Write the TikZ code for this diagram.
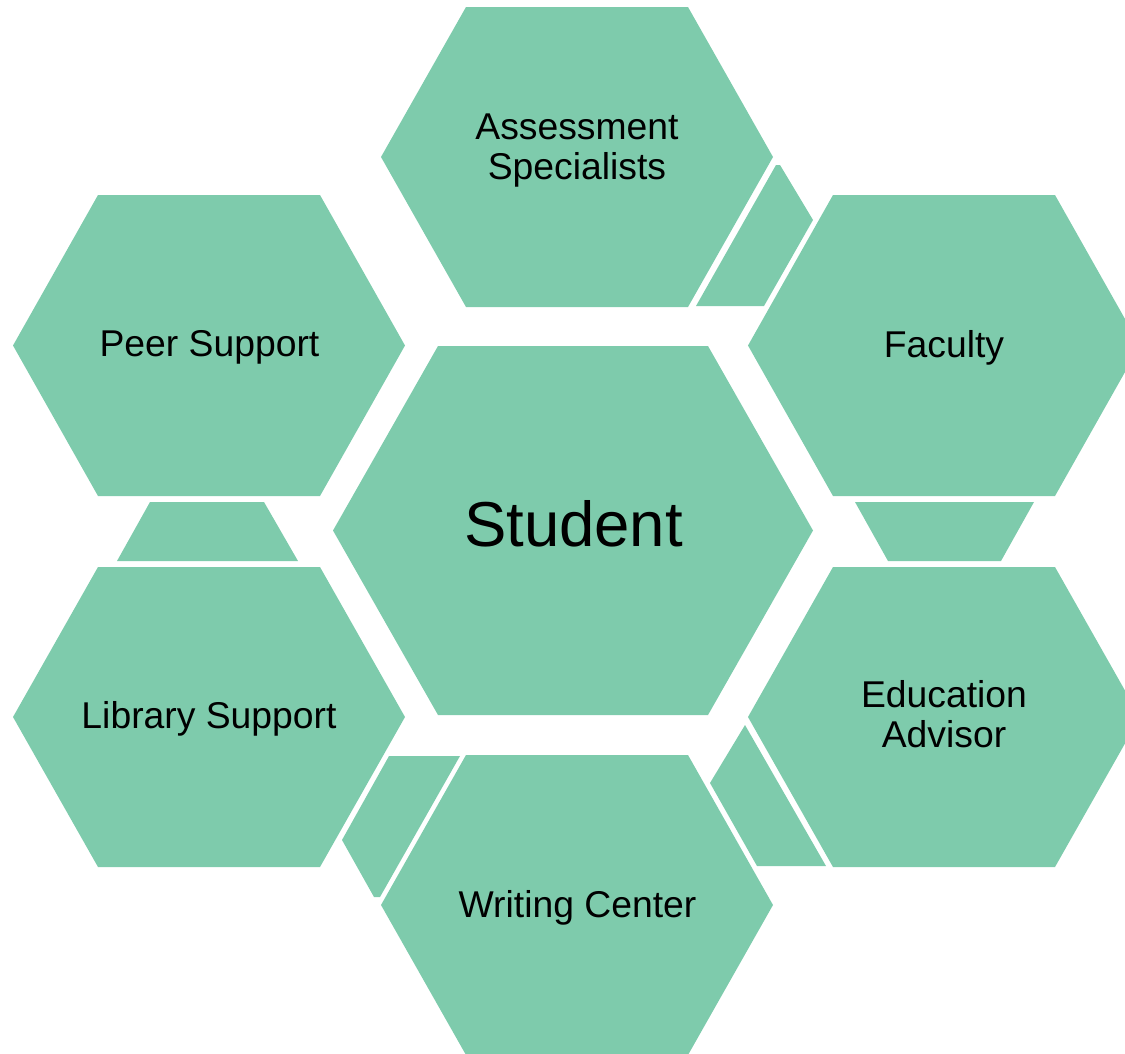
\documentclass[tikz,border=0pt]{standalone}
\usepackage{fontspec}
\setmainfont{Liberation Sans}
\definecolor{hexgreen}{RGB}{126,203,172}
\newcommand{\HexShape}[5]{% cx cy halfwidth halfedge halfheight
  \fill[hexfill] ({#1-#3},{#2}) -- ({#1-#4},{#2-#5}) -- ({#1+#4},{#2-#5})
    -- ({#1+#3},{#2}) -- ({#1+#4},{#2+#5}) -- ({#1-#4},{#2+#5}) -- cycle;}
\begin{document}
\begin{tikzpicture}[x=1pt,y=-1pt,
  hexfill/.style={fill=hexgreen},
  linkfill/.style={fill=hexgreen},
  lbl/.style={font=\fontsize{37.3}{40}\selectfont, text=black, inner sep=0pt, align=center},
  biglbl/.style={font=\fontsize{63.5}{70}\selectfont, text=black, inner sep=0pt}]
\useasboundingbox (0,0) rectangle (1125,1053);
\clip (0,0) rectangle (1125,1053);
% hexagons
\HexShape{573}{530.5}{240}{135}{184.5}
\HexShape{577}{157}{196}{111}{150}
\HexShape{209}{345.5}{196}{111}{150.5}
\HexShape{944}{345.5}{196}{111}{150.5}
\HexShape{209}{717}{196}{111}{150}
\HexShape{944}{717}{196}{111}{150}
\HexShape{577}{905}{196}{111}{150}
% linking trapezoids
\fill[linkfill] (696,306) -- (764,306) -- (813,220) -- (780,165) -- (776,165) -- cycle;
\fill[linkfill] (389,756) -- (460,756) -- (380,897) -- (374,897) -- (342,840) -- cycle;
\fill[linkfill] (745,725) -- (826,866) -- (757,866) -- (710,783) -- cycle;
\fill[linkfill] (855,502) -- (1034,502) -- (1001,561) -- (888,561) -- cycle;
\fill[linkfill] (150,502) -- (264,502) -- (298,561) -- (117,561) -- cycle;
% labels
\node[biglbl, anchor=base] (student) at (573.5,546) {Student};
\node[lbl] (assess) at (577,151) {Assessment\\Specialists};
\node[lbl, anchor=base] (peer) at (209.5,356) {Peer Support};
\node[lbl, anchor=base] (faculty) at (944,357) {Faculty};
\node[lbl, anchor=base] (library) at (209,728) {Library Support};
\node[lbl] (educ) at (944,714) {Education\\Advisor};
\node[lbl, anchor=base] (writing) at (577.5,917) {Writing Center};
\end{tikzpicture}
\end{document}
